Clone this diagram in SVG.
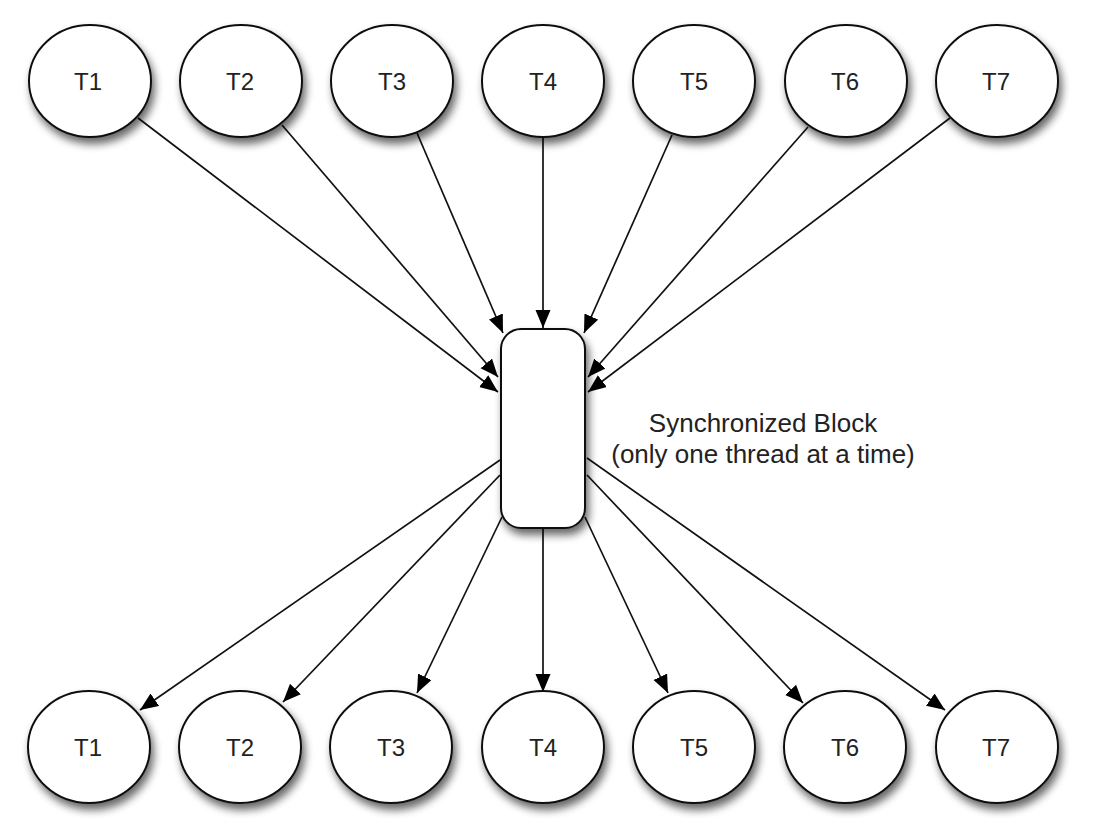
<svg xmlns="http://www.w3.org/2000/svg" width="1094" height="836" viewBox="0 0 1094 836">
<defs>
<filter id="sh" x="-30%" y="-30%" width="170%" height="180%" filterUnits="objectBoundingBox">
<feGaussianBlur in="SourceAlpha" stdDeviation="4" result="b"/>
<feOffset in="b" dx="3" dy="6" result="o"/>
<feComponentTransfer in="o" result="s"><feFuncA type="linear" slope="0.6"/></feComponentTransfer>
<feMerge><feMergeNode in="s"/><feMergeNode in="SourceGraphic"/></feMerge>
</filter>
<marker id="ah" markerUnits="userSpaceOnUse" markerWidth="20" markerHeight="16" refX="18" refY="7.5" orient="auto">
<path d="M0,0 L18,7.5 L0,15 Z" fill="#000"/>
</marker>
<style>
.n text{font-family:"Liberation Sans",Arial,sans-serif;font-size:24px;fill:#222;text-anchor:middle}
.sh{fill:#fff;stroke:#111;stroke-width:2}
#connectors line{stroke:#111;stroke-width:1.7;marker-end:url(#ah)}
.lbl{font-family:"Liberation Sans",Arial,sans-serif;font-size:26px;fill:#222;text-anchor:middle}
</style>
</defs>
<rect width="1094" height="836" fill="#fff"/>
<g id="connectors">
<line x1="138" y1="118" x2="498" y2="392"/>
<line x1="282" y1="125" x2="498" y2="377"/>
<line x1="417" y1="133" x2="503" y2="333"/>
<line x1="543" y1="137" x2="543" y2="328"/>
<line x1="672" y1="135" x2="584" y2="333"/>
<line x1="808" y1="127" x2="588" y2="377"/>
<line x1="950" y1="118" x2="588" y2="392"/>
<line x1="500" y1="460" x2="140" y2="710"/>
<line x1="500" y1="475" x2="283" y2="702"/>
<line x1="502" y1="517" x2="417" y2="693"/>
<line x1="543" y1="528" x2="543" y2="692"/>
<line x1="585" y1="517" x2="668" y2="693"/>
<line x1="587" y1="475" x2="803" y2="703"/>
<line x1="587" y1="458" x2="945" y2="710"/>
</g>
<g id="block">
<rect class="sh" x="501" y="329" width="84" height="199" rx="20" ry="20" filter="url(#sh)"/>
</g>
<g id="block-label">
<text class="lbl" x="763" y="432">Synchronized Block</text>
<text class="lbl" x="763" y="463">(only one thread at a time)</text>
</g>
<g id="top-T1" class="n"><ellipse class="sh" filter="url(#sh)" cx="90" cy="81" rx="61" ry="56"/><text x="88" y="90">T1</text></g>
<g id="top-T2" class="n"><ellipse class="sh" filter="url(#sh)" cx="241" cy="81" rx="61" ry="56"/><text x="240" y="90">T2</text></g>
<g id="top-T3" class="n"><ellipse class="sh" filter="url(#sh)" cx="392" cy="81" rx="61" ry="56"/><text x="392" y="90">T3</text></g>
<g id="top-T4" class="n"><ellipse class="sh" filter="url(#sh)" cx="543" cy="81" rx="61" ry="56"/><text x="543" y="90">T4</text></g>
<g id="top-T5" class="n"><ellipse class="sh" filter="url(#sh)" cx="694" cy="81" rx="61" ry="56"/><text x="694" y="90">T5</text></g>
<g id="top-T6" class="n"><ellipse class="sh" filter="url(#sh)" cx="846" cy="81" rx="61" ry="56"/><text x="845" y="90">T6</text></g>
<g id="top-T7" class="n"><ellipse class="sh" filter="url(#sh)" cx="997" cy="81" rx="61" ry="56"/><text x="996" y="90">T7</text></g>
<g id="bot-T1" class="n"><ellipse class="sh" filter="url(#sh)" cx="89" cy="747" rx="61" ry="56"/><text x="88" y="756">T1</text></g>
<g id="bot-T2" class="n"><ellipse class="sh" filter="url(#sh)" cx="240" cy="747" rx="61" ry="56"/><text x="240" y="756">T2</text></g>
<g id="bot-T3" class="n"><ellipse class="sh" filter="url(#sh)" cx="391" cy="747" rx="61" ry="56"/><text x="391" y="756">T3</text></g>
<g id="bot-T4" class="n"><ellipse class="sh" filter="url(#sh)" cx="543" cy="747" rx="61" ry="56"/><text x="543" y="756">T4</text></g>
<g id="bot-T5" class="n"><ellipse class="sh" filter="url(#sh)" cx="694" cy="747" rx="61" ry="56"/><text x="694" y="756">T5</text></g>
<g id="bot-T6" class="n"><ellipse class="sh" filter="url(#sh)" cx="845" cy="747" rx="61" ry="56"/><text x="845" y="756">T6</text></g>
<g id="bot-T7" class="n"><ellipse class="sh" filter="url(#sh)" cx="997" cy="747" rx="61" ry="56"/><text x="996" y="756">T7</text></g>
</svg>
